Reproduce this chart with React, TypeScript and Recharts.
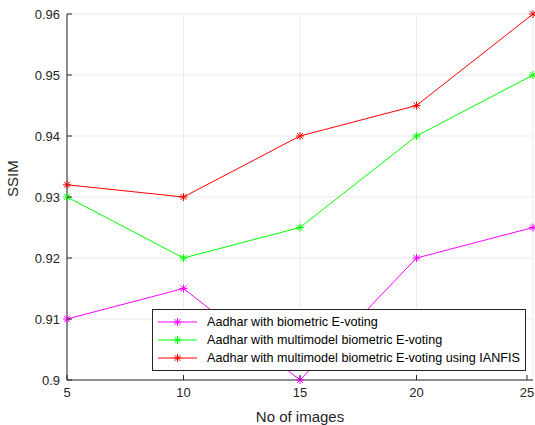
import React from "react";
import {
  LineChart,
  Line,
  XAxis,
  YAxis,
  CartesianGrid,
  Legend,
} from "recharts";

const images = [5, 10, 15, 20, 25];
const biometric = [0.91, 0.915, 0.9, 0.92, 0.925];
const multimodel = [0.93, 0.92, 0.925, 0.94, 0.95];
const ianfis = [0.932, 0.93, 0.94, 0.945, 0.96];
const yTicks = [0.9, 0.91, 0.92, 0.93, 0.94, 0.95, 0.96];

const seriesInfo = [
  { key: "a", name: "Aadhar with biometric E-voting", color: "#ff00ff" },
  { key: "b", name: "Aadhar with multimodel biometric E-voting", color: "#00ff00" },
  { key: "c", name: "Aadhar with multimodel biometric E-voting using IANFIS", color: "#ff0000" },
];

const data = images.map((n, i) => ({
  n,
  a: biometric[i],
  b: multimodel[i],
  c: ianfis[i],
}));

const FONT = "'Liberation Sans', Arial, sans-serif";
const AXIS = "#262626";

function Star({ cx, cy, color, r = 4 }: any) {
  if (cx == null || cy == null) return null;
  const d = r * 0.72;
  return (
    <g stroke={color} strokeWidth={1}>
      <line x1={cx - r} y1={cy} x2={cx + r} y2={cy} />
      <line x1={cx} y1={cy - r} x2={cx} y2={cy + r} />
      <line x1={cx - d} y1={cy - d} x2={cx + d} y2={cy + d} />
      <line x1={cx - d} y1={cy + d} x2={cx + d} y2={cy - d} />
    </g>
  );
}

function YTick({ x, y, payload }: any) {
  const ax = x + 7;
  return (
    <g>
      <line x1={ax} y1={y} x2={ax + 5} y2={y} stroke={AXIS} />
      <text x={x} y={y} dy={4.5} textAnchor="end" fill={AXIS} fontSize={13} fontFamily={FONT}>
        {payload.value}
      </text>
    </g>
  );
}

function XTick({ x, y, payload }: any) {
  const ay = y - 7;
  return (
    <g>
      <line x1={x} y1={ay} x2={x} y2={ay - 5} stroke={AXIS} />
      <text x={x} y={y} dy={10} textAnchor="middle" fill={AXIS} fontSize={13} fontFamily={FONT}>
        {payload.value}
      </text>
    </g>
  );
}

function Empty() {
  return <g />;
}

function LegendBox() {
  return (
    <div
      style={{
        border: "1px solid #262626",
        background: "#fff",
        padding: "3px 5px 3px 4px",
        fontFamily: FONT,
        fontSize: 12.6,
        color: "#000",
        lineHeight: "18px",
      }}
    >
      {seriesInfo.map((s) => (
        <div key={s.key} style={{ display: "flex", alignItems: "center", whiteSpace: "nowrap" }}>
          <svg width={46} height={18} style={{ marginRight: 4 }}>
            <line x1={1} y1={9} x2={40} y2={9} stroke={s.color} />
            <Star cx={20.5} cy={9} color={s.color} />
          </svg>
          <span>{s.name}</span>
        </div>
      ))}
    </div>
  );
}

export default function App() {
  return (
    <div style={{ position: "absolute", left: 0, top: 0, background: "#fff" }}>
      <LineChart
        width={535}
        height={425}
        data={data}
        margin={{ top: 14, right: 2, bottom: 0, left: 0 }}
      >
        <CartesianGrid stroke="#ebebeb" />
        <XAxis
          dataKey="n"
          type="number"
          domain={[5, 25]}
          ticks={images}
          axisLine={{ stroke: AXIS }}
          tickLine={false}
          tickSize={0}
          tickMargin={7}
          tick={<XTick />}
          height={45}
          label={{
            value: "No of images",
            position: "insideBottom",
            offset: 3,
            fill: AXIS,
            fontSize: 15,
            fontFamily: FONT,
          }}
        />
        <XAxis
          xAxisId="top"
          dataKey="n"
          type="number"
          orientation="top"
          domain={[5, 25]}
          ticks={images}
          mirror
          height={0}
          axisLine={{ stroke: AXIS }}
          tickLine={{ stroke: AXIS }}
          tickSize={5}
          tick={<Empty />}
        />
        <YAxis
          type="number"
          domain={[0.9, 0.96]}
          ticks={yTicks}
          width={67}
          axisLine={{ stroke: AXIS }}
          tickLine={false}
          tickSize={0}
          tickMargin={7}
          tick={<YTick />}
          label={{
            value: "SSIM",
            angle: -90,
            position: "insideLeft",
            offset: 13,
            fill: AXIS,
            fontSize: 15,
            fontFamily: FONT,
          }}
        />
        <YAxis
          yAxisId="right"
          type="number"
          orientation="right"
          domain={[0.9, 0.96]}
          ticks={yTicks}
          mirror
          width={0}
          axisLine={{ stroke: AXIS }}
          tickLine={{ stroke: AXIS }}
          tickSize={5}
          tick={<Empty />}
        />
        <Legend
          layout="vertical"
          align="center"
          verticalAlign="middle"
          content={<LegendBox />}
          wrapperStyle={{ left: 152, top: 309, width: "auto" }}
        />
        {seriesInfo.map((s) => (
          <Line
            key={s.key}
            dataKey={s.key}
            name={s.name}
            stroke={s.color}
            strokeWidth={1}
            isAnimationActive={false}
            dot={(p: any) => <Star key={`${s.key}-${p.index}`} cx={p.cx} cy={p.cy} color={s.color} />}
            activeDot={false}
          />
        ))}
      </LineChart>
    </div>
  );
}
